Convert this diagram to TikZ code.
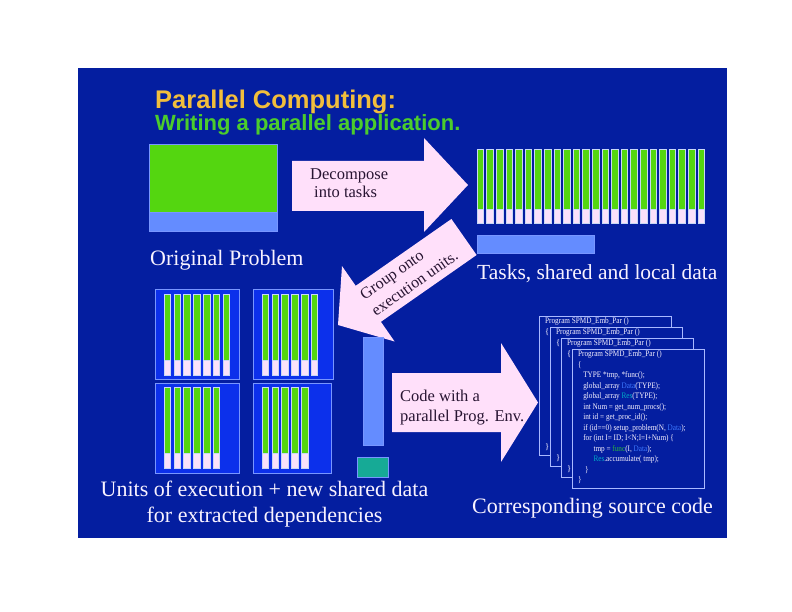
\documentclass[tikz,border=0pt]{standalone}
\usepackage{fontspec}
\setmainfont{Liberation Serif}
\newfontfamily\titlefont{Liberation Sans}
\usepackage{graphicx}
\usepackage{tikz}
\usetikzlibrary{positioning}
\definecolor{slideblue}{RGB}{4,30,160}
\definecolor{unitblue}{RGB}{12,48,235}
\definecolor{edgeblue}{RGB}{120,150,255}
\definecolor{pageedge}{RGB}{170,185,255}
\definecolor{taskgreen}{RGB}{84,214,16}
\definecolor{sharedblue}{RGB}{100,140,255}
\definecolor{barpink}{RGB}{250,225,250}
\definecolor{barrim}{RGB}{200,215,245}
\definecolor{arrowpink}{RGB}{255,224,250}
\definecolor{arrowink}{RGB}{40,20,50}
\definecolor{newteal}{RGB}{22,170,150}
\definecolor{titleorange}{RGB}{242,190,60}
\definecolor{titlegreen}{RGB}{76,204,44}
\definecolor{labelwhite}{RGB}{248,242,255}
\definecolor{codedata}{RGB}{60,120,255}
\definecolor{coderes}{RGB}{0,170,200}
\definecolor{codefunc}{RGB}{40,180,60}

\begin{document}
\begin{tikzpicture}[x=1pt, y=-1pt,
        slidetext/.style={font=\fontsize{22}{26}\selectfont, text=labelwhite, inner sep=0pt},
        arrowtext/.style={font=\fontsize{16.5}{18}\selectfont, text=arrowink, align=left, inner sep=0pt},
        blockarrow/.style={fill=arrowpink},
        box/.style={rectangle, inner sep=0pt, outer sep=0pt, draw=edgeblue, line width=0.6pt},
        unit/.style={box, fill=unitblue, line width=0.8pt},
        bar/.style={draw=barrim, line width=0.4pt},
        page/.style={rectangle, draw=pageedge, fill=slideblue, line width=0.8pt, minimum width=132pt,
                     minimum height=139pt, anchor=north west, inner sep=0pt},
        code/.style={font=\fontsize{8.5}{10.5}\selectfont, text=labelwhite, anchor=north west, inner sep=0pt},
    ]
        \fill[white] (0,0) rectangle (792,612);
        \useasboundingbox (0,0) rectangle (792,612);
        \fill[slideblue] (78,68) rectangle (727,538);

        % Title
        \node[anchor=base west, inner sep=0pt, text=titleorange,
              font=\titlefont\bfseries\fontsize{25.5}{30}\selectfont] (title) at (155,108.5) {Parallel Computing:};
        \node[anchor=base west, inner sep=0pt, text=titlegreen,
              font=\titlefont\bfseries\fontsize{22}{26}\selectfont] (subtitle) at (155,131) {Writing a parallel application.};

        % Original problem
        \node[box, fill=taskgreen, minimum width=128pt, minimum height=68pt, anchor=north west] (orig) at (149,144) {};
        \node[box, fill=sharedblue, minimum width=128pt, minimum height=19pt, below=0pt of orig] (origdata) {};
        \node[slidetext, below right=19pt and 1pt of origdata.south west] (origlabel) {Original Problem};

        % Group arrow
        \fill[blockarrow] (451.4,219) -- (355.7,285.8) -- (342,266.1) -- (338,325) -- (394.6,341.5)
            -- (380.9,321.8) -- (476.6,255) -- cycle;
        \node[arrowtext, rotate=35, font=\fontsize{16}{20}\selectfont] (group) at (409,275)
            {Group onto\\execution units.};

        % Decompose arrow
        \fill[blockarrow] (292,161) -- (424,161) -- (424,138) -- (468,185) -- (424,232) -- (424,211)
            -- (292,211) -- cycle;
        \node[arrowtext, anchor=north west] (decomp) at (310,168) {Decompose\\\hspace*{4pt}into tasks};

        % Tasks
        \foreach \i in {0,...,23} {
            \filldraw[bar, fill=taskgreen] ({477+9.6*\i},149) rectangle ++(6.5,60);
            \filldraw[bar, fill=barpink] ({477+9.6*\i},209) rectangle ++(6.5,14);
        }
        \node[box, fill=sharedblue, minimum width=117pt, minimum height=18pt, anchor=north west] (tshared) at (477,235) {};
        \node[slidetext, font=\fontsize{21.5}{26}\selectfont, below right=11pt and 0pt of tshared.south west]
            (tasklabel) {Tasks, shared and local data};

        % Units of execution
        \node[unit, minimum width=84pt, minimum height=90pt] (unit1) at (197,334) {};
        \node[unit, minimum width=80pt, minimum height=90pt] (unit2) at (293,334) {};
        \node[unit, minimum width=84pt, minimum height=90pt] (unit3) at (197,428) {};
        \node[unit, minimum width=78pt, minimum height=90pt] (unit4) at (292,428) {};
        \foreach \n/\x/\y in {6/164/294, 5/262/294, 5/164/387, 4/262/387} {
            \foreach \i in {0,...,\n} {
                \filldraw[bar, fill=taskgreen] ({\x+9.8*\i},{\y}) rectangle ++(6.5,66);
                \filldraw[bar, fill=barpink] ({\x+9.8*\i},{\y+66}) rectangle ++(6.5,15);
            }
        }
        \node[box, fill=sharedblue, minimum width=20pt, minimum height=108pt, anchor=north west] (vshared) at (363,337) {};
        \node[box, fill=newteal, minimum width=31pt, minimum height=20pt, below=12pt of vshared] (newdata) {};
        \node[slidetext, align=center, anchor=north] (unitlabel) at (264.5,481)
            {Units of execution + new shared data\\for extracted dependencies};

        % Code arrow
        \fill[blockarrow] (392,373) -- (501,373) -- (501,343) -- (538,402.5) -- (501,462) -- (501,432)
            -- (392,432) -- cycle;
        \node[arrowtext, font=\fontsize{16.5}{20}\selectfont, anchor=north west] (codewith) at (400,389.7)
            {Code with a\\parallel Prog. Env.};

        % Source pages
        \foreach \i in {1,2,3} {
            \node[page] (page\i) at ({539+11*(\i-1)},{316+11*(\i-1)}) {};
            \node[code] (head\i) at ([xshift=6pt]page\i.north west)
                {\scalebox{0.85}[1]{\strut Program SPMD\_Emb\_Par ()}};
            \node[code] (open\i) at ([xshift=6pt, yshift=-10.5pt]page\i.north west) {\strut\{};
            \node[code] (close\i) at ([xshift=6pt, yshift=-126pt]page\i.north west) {\strut\}};
        }
        \node[page] (page4) at (572,349) {};
        \node[code] (code4) at ([xshift=6pt]page4.north west) {\scalebox{0.85}[1]{\begin{tabular}{@{}l@{}}
            Program SPMD\_Emb\_Par ()\\
            \{\\
            \hspace*{6pt}TYPE *tmp, *func();\\
            \hspace*{6pt}global\_array \textcolor{codedata}{Data}(TYPE);\\
            \hspace*{6pt}global\_array \textcolor{coderes}{Res}(TYPE);\\
            \hspace*{6pt}int Num = get\_num\_procs();\\
            \hspace*{6pt}int id = get\_proc\_id();\\
            \hspace*{6pt}if (id==0) setup\_problem(N, \textcolor{codedata}{Data});\\
            \hspace*{6pt}for (int I= ID; I<N;I=I+Num) \{\\
            \hspace*{18pt}tmp = \textcolor{codefunc}{func}(I, \textcolor{codedata}{Data});\\
            \hspace*{18pt}\textcolor{coderes}{Res}.accumulate( tmp);\\
            \hspace*{8pt}\}\\
            \}
        \end{tabular}}};
        \node[slidetext, anchor=base] (codelabel) at (592.5,513) {Corresponding source code};
    \end{tikzpicture}
\end{document}
